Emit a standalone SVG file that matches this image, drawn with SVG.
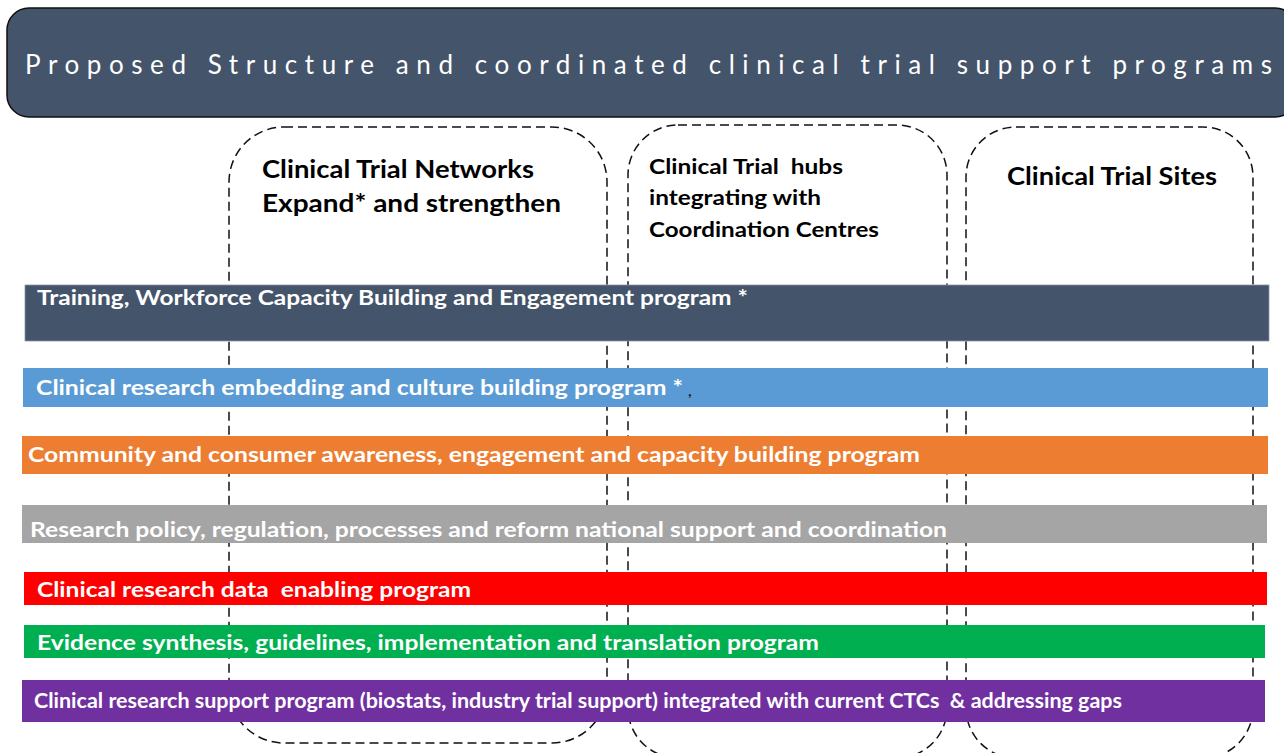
<svg xmlns="http://www.w3.org/2000/svg" width="1284" height="753" viewBox="0 0 1284 753">
<style>
text{white-space:pre}
.dash{fill:none;stroke:#111;stroke-width:1.5;stroke-dasharray:9 5}
.hdr{font-family:Lato,"Open Sans","Liberation Sans",sans-serif;font-weight:bold;fill:#000}
.bar{font-family:Lato,"Open Sans","Liberation Sans",sans-serif;font-weight:bold;fill:#fff;font-size:21px}
</style>
<rect width="1284" height="753" fill="#fff"/>
<g id="title">
<rect x="7" y="8" width="1290" height="109" rx="22" fill="#44546a" stroke="#111" stroke-width="1.5"/>
<text x="25" y="74" font-family="Lato,'Open Sans','Liberation Sans',sans-serif" font-size="26" fill="#fff" textLength="1247" lengthAdjust="spacing">Proposed Structure and coordinated clinical trial support programs</text>
</g>
<g id="networks">
<rect class="dash" x="229" y="127" width="378" height="616" rx="55"/>
<text class="hdr" x="262" y="178" font-size="25" textLength="272" lengthAdjust="spacingAndGlyphs">Clinical Trial Networks</text>
<text class="hdr" x="262" y="212" font-size="25" textLength="299" lengthAdjust="spacingAndGlyphs">Expand* and strengthen</text>
</g>
<g id="hubs">
<rect class="dash" x="628" y="125" width="319" height="633" rx="50"/>
<text class="hdr" x="649" y="174" font-size="21" textLength="194" lengthAdjust="spacingAndGlyphs" xml:space="preserve">Clinical Trial  hubs</text>
<text class="hdr" x="649" y="205" font-size="21" textLength="172" lengthAdjust="spacingAndGlyphs">integrating with</text>
<text class="hdr" x="649" y="237" font-size="21" textLength="230" lengthAdjust="spacingAndGlyphs">Coordination Centres</text>
</g>
<g id="sites">
<rect class="dash" x="966" y="127" width="287" height="631" rx="50"/>
<text class="hdr" x="1007" y="185" font-size="25" textLength="210" lengthAdjust="spacingAndGlyphs">Clinical Trial Sites</text>
</g>
<g id="training">
<rect x="25" y="285" width="1244" height="56" fill="#44546a" stroke="#8a94a6" stroke-width="0.8"/>
<text class="bar" x="37" y="305" textLength="711" lengthAdjust="spacingAndGlyphs">Training, Workforce Capacity Building and Engagement program *</text>
</g>
<g id="embedding">
<rect x="23" y="368" width="1245" height="39" fill="#5b9bd5"/>
<text class="bar" x="36" y="395" textLength="647" lengthAdjust="spacingAndGlyphs">Clinical research embedding and culture building program *</text>
<text x="688" y="396" font-family="Lato,'Liberation Sans',sans-serif" font-size="16" fill="#000">,</text>
</g>
<g id="community">
<rect x="22" y="436" width="1246" height="38" fill="#ed7d31"/>
<text class="bar" x="28" y="462" textLength="892" lengthAdjust="spacingAndGlyphs">Community and consumer awareness, engagement and capacity building program</text>
</g>
<g id="policy">
<rect x="22" y="505" width="1245" height="38" fill="#a5a5a5"/>
<text class="bar" x="30" y="537" textLength="917" lengthAdjust="spacingAndGlyphs">Research policy, regulation, processes and reform national support and coordination</text>
</g>
<g id="data">
<rect x="24" y="572" width="1243" height="33" fill="#ff0000"/>
<text class="bar" x="37" y="597" textLength="434" lengthAdjust="spacingAndGlyphs" xml:space="preserve">Clinical research data  enabling program</text>
</g>
<g id="evidence">
<rect x="24" y="625" width="1241" height="33" fill="#00b050"/>
<text class="bar" x="37" y="650" textLength="782" lengthAdjust="spacingAndGlyphs">Evidence synthesis, guidelines, implementation and translation program</text>
</g>
<g id="support">
<rect x="22" y="680" width="1243" height="42" fill="#7030a0"/>
<text class="bar" x="34" y="708" font-size="19" textLength="1088" lengthAdjust="spacingAndGlyphs" xml:space="preserve">Clinical research support program (biostats, industry trial support) integrated with current CTCs  &amp; addressing gaps</text>
</g>
<g id="connectors"/>
</svg>
